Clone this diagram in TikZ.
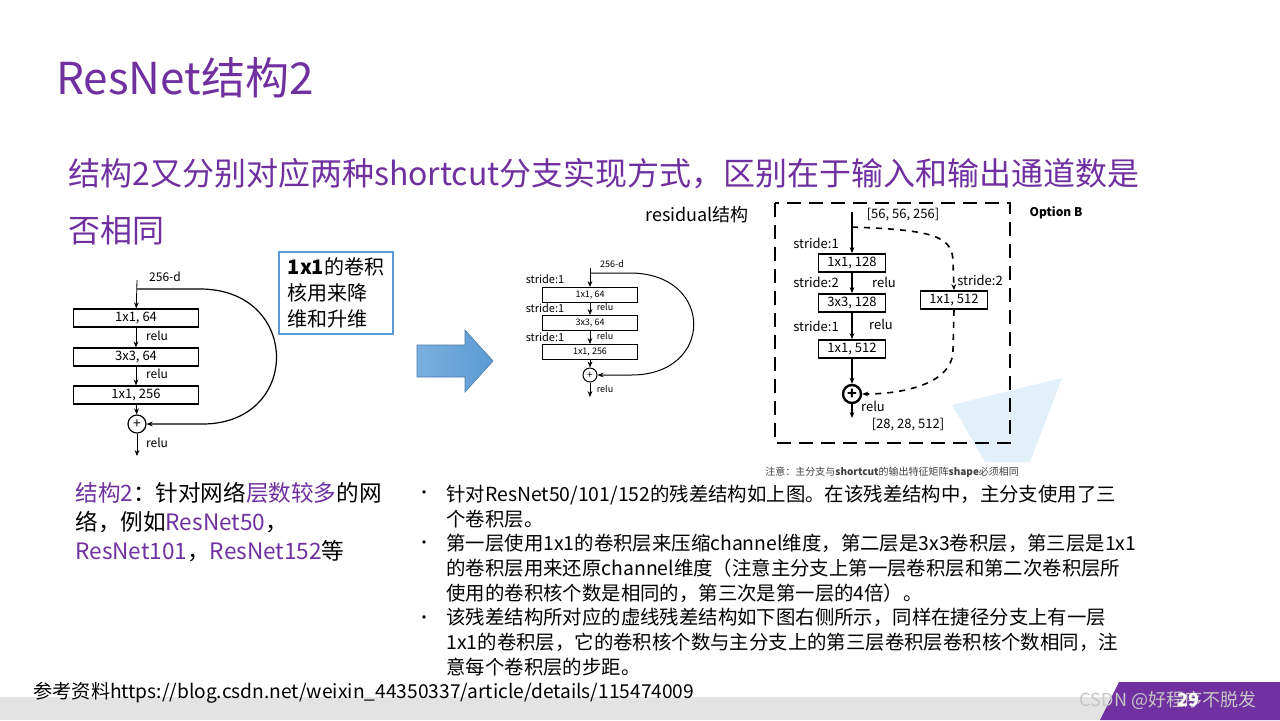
\documentclass[tikz,border=0pt]{standalone}
\usepackage{fontspec}
\setmainfont{Noto Sans CJK SC}
\usetikzlibrary{arrows.meta,shapes.geometric}
\definecolor{pur}{HTML}{7030A0}
\definecolor{bblue}{RGB}{91,155,213}
\definecolor{lblue}{RGB}{205,230,245}
\tikzset{
 tip/.style={-{Stealth[length=3pt,width=2.4pt]}},
 lbox/.style={draw,line width=0.6pt,minimum width=62.5pt,minimum height=9pt,inner sep=0pt,font=\fontsize{6.5}{7}\selectfont},
 mbox/.style={draw,line width=0.5pt,minimum width=47.5pt,minimum height=7.5pt,inner sep=0pt,font=\fontsize{4.5}{5}\selectfont},
 rbox/.style={draw,line width=0.9pt,minimum width=33.5pt,minimum height=9pt,inner sep=0pt,font=\fontsize{6.5}{7}\selectfont},
 lt/.style={font=\fontsize{6}{7}\selectfont,inner sep=0pt},
 mt/.style={font=\fontsize{4.5}{5}\selectfont,inner sep=0pt},
 rt/.style={font=\fontsize{6.5}{7}\selectfont,inner sep=0pt},
 body/.style={font=\fontsize{9.7}{12.4}\selectfont,inner sep=0pt,anchor=north west,align=left},
}
\begin{document}
\begin{tikzpicture}[x=0.5pt,y=-0.5pt]
\useasboundingbox (0,0) rectangle (1280,720);
\fill[white] (0,0) rectangle (1280,720);
% footer
\fill[gray!22] (0,697) rectangle (1120,720);
\fill[pur] (1100,720) -- (1119,682) -- (1280,682) -- (1280,720) -- cycle;
\node[anchor=west,inner sep=0pt,font=\fontsize{9.6}{10}\selectfont] (ref) at (33,693) {参考资料https://blog.csdn.net/weixin\_44350337/article/details/115474009};
\node[inner sep=0pt,text=gray!45,font=\fontsize{9}{9}\selectfont] (wm) at (1168,700) {CSDN @好程序不脱发};
\node[inner sep=0pt,text=white,font=\bfseries\fontsize{9}{9}\selectfont] (pg) at (1188,700) {29};
% title
\node[anchor=west,inner sep=0pt,text=pur,font=\fontsize{22}{24}\selectfont] (title) at (56,78) {ResNet结构2};
\node[anchor=west,inner sep=0pt,text=pur,font=\fontsize{16}{16}\selectfont] (sub1) at (68,174) {结构2又分别对应两种shortcut分支实现方式，区别在于输入和输出通道数是};
\node[anchor=west,inner sep=0pt,text=pur,font=\fontsize{16}{16}\selectfont] (sub2) at (68,230) {否相同};
% light decorative shapes
\fill[lblue,opacity=0.6] (952,405) -- (1062,378) -- (1030,462) -- (985,462) -- cycle;
% left diagram
\node[lt] (l256) at (165,277) {256-d};
\coordinate (ltop) at (137,280);
\coordinate (lsplit) at (137,289);
\node[lbox] (lb1) at (136,318) {1x1, 64};
\node[lbox] (lb2) at (136,357) {3x3, 64};
\node[lbox] (lb3) at (136,395) {1x1, 256};
\node[draw,circle,line width=0.6pt,minimum size=9pt,inner sep=0pt,font=\fontsize{7}{7}\selectfont] (lplus) at (137,424) {+};
\coordinate (lend) at (137,456);
\node[lt] at (157,336) {relu};
\node[lt] at (157,374) {relu};
\node[lt] at (157,443) {relu};
\draw[tip] (ltop) -- (lb1);
\draw[tip] (lb1) -- (lb2);
\draw[tip] (lb2) -- (lb3);
\draw[tip] (lb3) -- (lplus);
\draw[tip] (lplus) -- (lend);
\draw[tip,line width=0.6pt] (lsplit) -- (200,289) .. controls (302,289) and (302,426) .. (200,424) -- (lplus.east);
\node[draw=bblue,line width=1.2pt,minimum width=57pt,minimum height=40pt,inner sep=3pt,align=left,font=\fontsize{10}{13}\selectfont] (note1) at (336,293) {\textbf{1x1}的卷积\\核用来降\\维和升维};
% big arrow
\shade[left color=bblue!80,right color=bblue,draw=bblue!80!black,line width=0.3pt] (417,345) -- (465,345) -- (465,330) -- (493,361) -- (465,392) -- (465,377) -- (417,377) -- cycle;
% middle diagram
\node[font=\fontsize{9}{9}\selectfont,inner sep=0pt] (resid) at (697,215) {residual结构};
\node[mt] (m256) at (612,264) {256-d};
\coordinate (mtop) at (590,268);
\coordinate (msplit) at (590,273);
\node[mbox] (mb1) at (590,295) {1x1, 64};
\node[mbox] (mb2) at (590,323) {3x3, 64};
\node[mbox] (mb3) at (590,352) {1x1, 256};
\node[draw,circle,line width=0.5pt,minimum size=7pt,inner sep=0pt,font=\fontsize{5}{5}\selectfont] (mplus) at (590,375) {+};
\coordinate (mend) at (590,397);
\node[mt,font=\fontsize{5.5}{6}\selectfont] at (545,279) {stride:1};
\node[mt,font=\fontsize{5.5}{6}\selectfont] at (545,308) {stride:1};
\node[mt,font=\fontsize{5.5}{6}\selectfont] at (545,337) {stride:1};
\node[mt] at (605,307) {relu};
\node[mt] at (605,336) {relu};
\node[mt] at (605,389) {relu};
\draw[tip] (mtop) -- (mb1);
\draw[tip] (mb1) -- (mb2);
\draw[tip] (mb2) -- (mb3);
\draw[tip] (mb3) -- (mplus);
\draw[tip] (mplus) -- (mend);
\draw[tip,line width=0.5pt] (msplit) -- (630,273) .. controls (715,273) and (715,376) .. (630,375) -- (mplus.east);
% right diagram
\draw[dashed,line width=1pt,dash pattern=on 7pt off 4pt] (775,203) rectangle (1010,443);
\node[font=\bfseries\fontsize{6}{6}\selectfont,inner sep=0pt] (optb) at (1056,213) {Option B};
\node[rt] (r56) at (903,215) {[56, 56, 256]};
\coordinate (rtop) at (852,212);
\coordinate (rsplit) at (852,227);
\node[rbox] (rb1) at (852,263) {1x1, 128};
\node[rbox] (rb2) at (852,303) {3x3, 128};
\node[rbox] (rb3) at (852,349) {1x1, 512};
\node[rbox] (rs) at (954,300) {1x1, 512};
\node[draw,circle,line width=1.2pt,minimum size=9pt,inner sep=0pt,font=\bfseries\fontsize{8}{8}\selectfont] (rplus) at (852,394) {+};
\coordinate (rend) at (852,418);
\node[rt] at (816,243) {stride:1};
\node[rt] at (816,282) {stride:2};
\node[rt] at (816,326) {stride:1};
\node[rt] at (884,282) {relu};
\node[rt] at (881,324) {relu};
\node[rt] at (873,406) {relu};
\node[rt] at (980,280) {stride:2};
\node[rt] (r28) at (908,425) {[28, 28, 512]};
\draw[tip,line width=0.8pt] (rtop) -- (rb1);
\draw[tip,line width=0.8pt] (rb1) -- (rb2);
\draw[tip,line width=0.8pt] (rb2) -- (rb3);
\draw[tip,line width=0.8pt] (rb3) -- (rplus);
\draw[tip,line width=0.8pt] (rplus) -- (rend);
\draw[tip,dashed,line width=0.8pt] (rsplit) .. controls (930,230) and (953,235) .. (953,262) -- (rs.north);
\draw[tip,dashed,line width=0.8pt] (rs.south) -- (953,350) .. controls (953,385) and (900,394) .. (rplus.east);
\node[anchor=west,inner sep=0pt,text=black!75,font=\fontsize{5}{5}\selectfont] (note2) at (765,472) {注意：主分支与\textbf{shortcut}的输出特征矩阵\textbf{shape}必须相同};
% bottom left text
\node[anchor=north west,inner sep=0pt,align=left,font=\fontsize{11.3}{14.5}\selectfont] (left) at (75,482) {\textcolor{pur}{结构2}：针对网络\textcolor{pur}{层数较多}的网\\络，例如\textcolor{pur}{ResNet50}，\\\textcolor{pur}{ResNet101}，\textcolor{pur}{ResNet152}等};
% bullets
\node[body] (t1) at (446,485) {针对ResNet50/101/152的残差结构如上图。在该残差结构中，主分支使用了三\\个卷积层。};
\node[body] (t2) at (446,534) {第一层使用1x1的卷积层来压缩channel维度，第二层是3x3卷积层，第三层是1x1\\的卷积层用来还原channel维度（注意主分支上第一层卷积层和第二次卷积层所\\使用的卷积核个数是相同的，第三次是第一层的4倍）。};
\node[body] (t3) at (446,608) {该残差结构所对应的虚线残差结构如下图右侧所示，同样在捷径分支上有一层\\1x1的卷积层，它的卷积核个数与主分支上的第三层卷积层卷积核个数相同，注\\意每个卷积层的步距。};
\foreach \y in {495,545,620} \node[inner sep=0pt,font=\fontsize{8}{8}\selectfont] at (424,\y) {•};
\end{tikzpicture}
\end{document}
